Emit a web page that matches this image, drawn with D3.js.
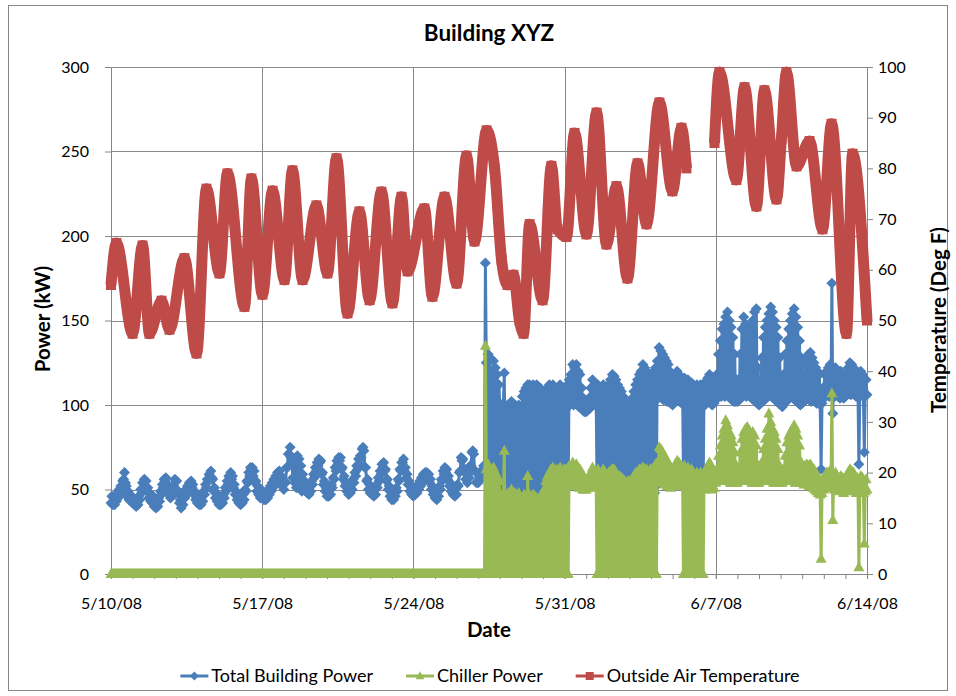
<!DOCTYPE html>
<html>
<head>
<meta charset="utf-8">
<script src="https://cdnjs.cloudflare.com/ajax/libs/d3/7.8.5/d3.min.js"></script>
<style>
body { margin: 0; background: #fff; }
text { font-family: Lato, "Open Sans", sans-serif; fill: #000; }
</style>
</head>
<body>
<svg id="chart" width="956" height="696"></svg>
<script>
// hourly readings, 5/10/08 00:00 through 6/14/08 00:00 (one row per day)
var startDate = new Date(2008, 4, 10);
var stepHours = 1;

var buildingPower = [
    42,46,41,45,41,46,43,48,45,50,48,52,51,55,56,60,54,52,46,49,44,47,43,46,   // 5/10
    42,45,41,44,40,44,41,46,44,50,48,54,54,56,52,55,49,51,45,48,43,46,42,46,
    40,43,39,44,40,45,43,49,47,53,51,56,55,57,51,53,47,50,45,49,46,52,51,56,
    55,55,48,49,42,44,39,44,41,47,45,50,47,52,49,54,52,55,51,53,47,49,44,47,
    42,46,41,45,41,46,43,49,47,53,51,56,55,59,58,61,57,56,49,51,45,48,43,46,
    41,45,41,46,42,47,45,51,49,55,53,58,57,60,56,58,51,53,47,49,44,47,42,46,
    41,45,42,47,44,50,49,55,54,60,58,63,62,63,58,61,54,55,49,52,47,50,45,49,
    45,49,44,48,44,48,45,50,47,52,49,54,51,56,53,58,55,60,57,61,56,58,52,55,   // 5/17
    50,55,54,63,63,71,71,75,69,67,57,65,54,68,51,70,53,68,51,64,49,59,50,55,
    51,53,48,51,47,52,49,55,53,59,57,63,61,66,64,68,66,67,59,60,53,55,49,51,
    46,50,46,51,47,53,51,57,56,63,61,67,65,69,67,69,62,63,56,58,52,54,49,52,
    47,51,48,53,50,56,54,60,58,64,62,68,65,70,69,74,75,73,63,63,55,56,50,53,
    48,51,47,50,46,50,47,53,51,57,55,61,59,65,63,66,61,62,55,56,50,52,46,49,
    44,48,44,49,46,51,49,56,55,62,61,66,66,68,61,63,57,59,53,55,49,52,47,50,
    46,50,47,51,48,53,50,55,52,57,54,59,56,60,56,60,56,59,54,56,50,52,47,50,   // 5/24
    45,48,44,49,46,52,50,56,55,61,59,63,60,62,56,58,52,54,49,52,47,50,46,50,
    47,53,52,60,61,69,67,68,61,62,56,59,54,59,57,64,64,72,73,71,61,61,54,55,
    54,55,56,58,60,62,64,60,184,125,58,130,62,128,55,120,60,126,52,122,58,118,55,112,
    100,52,98,50,101,119,50,99,48,100,52,98,50,102,48,99,50,100,49,98,51,100,48,97,
    50,105,52,108,50,110,52,112,48,112,50,110,52,112,50,110,48,112,50,108,52,110,50,106,
    52,105,50,108,52,110,50,112,52,110,55,112,50,110,52,108,50,110,52,112,50,108,52,110,
    52,110,50,112,52,115,100,118,102,124,100,122,101,124,100,120,99,118,100,110,97,104,96,100,   // 5/31
    96,102,97,104,98,110,100,115,102,112,100,108,55,112,50,110,52,108,50,112,48,108,50,110,
    48,112,50,115,46,118,50,117,48,115,52,112,48,110,50,108,46,105,48,102,46,100,45,98,
    45,100,48,104,50,108,48,112,50,115,52,118,50,120,52,124,50,122,52,120,50,118,48,118,
    48,118,50,120,48,122,52,126,104,134,106,132,104,130,103,128,104,126,102,124,102,120,101,118,
    100,114,102,118,104,120,103,118,102,116,101,115,60,116,58,114,57,115,60,112,58,113,57,112,
    58,110,57,112,56,110,58,112,57,110,56,112,100,114,101,116,102,118,101,116,100,114,101,112,
    105,118,104,130,106,138,105,145,106,148,105,152,106,155,105,150,104,146,103,140,102,130,102,115,   // 6/7
    102,115,103,130,104,145,105,152,106,148,105,145,106,143,105,146,104,150,103,155,102,157,101,122,
    100,112,101,128,102,140,103,146,104,150,105,154,106,158,105,155,104,150,103,146,102,140,101,128,
    100,105,99,118,101,130,102,138,103,145,104,150,105,154,104,157,103,152,102,146,101,138,100,128,
    101,118,102,124,103,128,104,130,103,131,102,128,103,125,102,122,101,120,102,118,100,62,101,110,
    104,118,105,120,106,122,105,124,106,172,95,120,105,122,106,120,105,118,104,120,105,118,104,116,
    105,118,106,122,107,125,106,124,107,122,106,120,105,118,106,65,105,120,106,118,105,72,106,115,
    106   // 6/14
];

var chillerPower = [
    0,0,0,0,0,0,0,0,0,0,0,0,0,0,0,0,0,0,0,0,0,0,0,0,   // 5/10
    0,0,0,0,0,0,0,0,0,0,0,0,0,0,0,0,0,0,0,0,0,0,0,0,
    0,0,0,0,0,0,0,0,0,0,0,0,0,0,0,0,0,0,0,0,0,0,0,0,
    0,0,0,0,0,0,0,0,0,0,0,0,0,0,0,0,0,0,0,0,0,0,0,0,
    0,0,0,0,0,0,0,0,0,0,0,0,0,0,0,0,0,0,0,0,0,0,0,0,
    0,0,0,0,0,0,0,0,0,0,0,0,0,0,0,0,0,0,0,0,0,0,0,0,
    0,0,0,0,0,0,0,0,0,0,0,0,0,0,0,0,0,0,0,0,0,0,0,0,
    0,0,0,0,0,0,0,0,0,0,0,0,0,0,0,0,0,0,0,0,0,0,0,0,   // 5/17
    0,0,0,0,0,0,0,0,0,0,0,0,0,0,0,0,0,0,0,0,0,0,0,0,
    0,0,0,0,0,0,0,0,0,0,0,0,0,0,0,0,0,0,0,0,0,0,0,0,
    0,0,0,0,0,0,0,0,0,0,0,0,0,0,0,0,0,0,0,0,0,0,0,0,
    0,0,0,0,0,0,0,0,0,0,0,0,0,0,0,0,0,0,0,0,0,0,0,0,
    0,0,0,0,0,0,0,0,0,0,0,0,0,0,0,0,0,0,0,0,0,0,0,0,
    0,0,0,0,0,0,0,0,0,0,0,0,0,0,0,0,0,0,0,0,0,0,0,0,
    0,0,0,0,0,0,0,0,0,0,0,0,0,0,0,0,0,0,0,0,0,0,0,0,   // 5/24
    0,0,0,0,0,0,0,0,0,0,0,0,0,0,0,0,0,0,0,0,0,0,0,0,
    0,0,0,0,0,0,0,0,0,0,0,0,0,0,0,0,0,0,0,0,0,0,0,0,
    0,0,0,0,0,0,0,0,135,62,0,65,0,60,0,58,0,63,0,60,0,58,0,55,
    48,0,46,0,47,73,0,45,0,48,0,46,0,50,0,47,0,48,0,46,0,48,0,45,
    0,45,0,47,0,46,0,58,0,47,0,45,0,47,0,46,0,45,0,44,0,46,0,45,
    0,50,0,55,0,58,0,60,0,62,0,63,0,60,0,62,0,60,0,63,0,61,0,62,
    0,62,0,60,0,64,52,62,54,66,52,64,53,65,52,63,51,62,52,60,50,58,50,56,   // 5/31
    50,55,51,58,52,60,53,63,52,60,51,58,0,62,0,60,0,58,0,62,0,60,0,58,
    0,60,0,61,0,62,0,62,0,60,0,58,0,58,0,57,0,56,0,55,0,54,0,55,
    0,55,0,56,0,58,0,60,0,60,0,62,0,62,0,63,0,62,0,62,0,60,0,62,
    0,62,0,63,0,65,0,66,54,75,56,74,55,72,54,70,53,68,52,66,52,64,51,62,
    52,62,53,65,54,67,53,66,52,64,52,63,0,64,0,62,0,63,0,60,0,62,0,60,
    0,58,0,60,2,58,0,60,0,58,0,60,50,62,51,64,52,66,51,64,50,62,51,60,
    54,62,55,70,55,76,56,82,56,86,55,91,56,88,55,84,54,82,54,78,54,72,54,64,   // 6/7
    54,60,55,72,55,80,56,84,56,86,55,87,56,85,55,83,54,84,54,82,54,76,54,64,
    54,58,55,66,55,74,56,80,56,86,55,95,56,90,55,86,54,84,54,80,54,74,54,64,
    54,56,54,62,55,70,55,78,56,82,55,84,56,86,55,88,54,86,54,82,54,76,54,66,
    54,62,53,64,54,65,53,64,52,65,52,63,51,62,50,60,49,58,48,56,47,9,48,55,
    50,58,51,60,52,60,51,61,52,107,32,58,50,60,51,58,50,57,49,58,50,57,48,56,
    49,58,50,60,50,62,51,61,50,60,49,58,48,57,49,4,48,58,49,57,48,18,49,56,
    50   // 6/14
];

// outside air temperature: [days after 5/10/08 00:00, deg F], null = no reading
var airTemp = [
    [0.00,57],[0.25,65.3],[1.00,47.4],[1.46,64.8],[1.78,47.4],[2.34,53.9],[2.71,48.2],
    [3.40,62.3],[3.96,43.5],[4.42,76],[5.02,59.3],[5.39,79],[6.18,52.7],[6.50,78],
    [7.01,55.1],[7.48,75.6],[8.03,58],[8.40,79.6],[8.87,58],[9.51,72.7],[10.02,59.3],
    [10.44,82],[10.95,51.4],[11.50,71.5],[11.97,54],[12.52,75.4],[13.03,53.4],[13.45,74.4],
    [13.73,59.7],[14.51,72.1],[14.88,54.7],[15.44,74.4],[16.00,57.3],[16.46,82.5],[16.83,65.6],
    [17.39,87.5],[17.76,80],[18.08,62],[18.36,57],[18.63,59],[18.91,50],[19.10,47.4],
    [19.38,69],[19.98,54],[20.39,80.5],[20.67,68],[21.09,66.5],[21.46,87],[22.01,67],
    [22.48,91],[22.94,65],[23.40,76.5],[23.91,58.3],[24.38,81],[24.79,69],[25.39,93],
    [25.99,75.5],[26.41,88],[26.64,80],[27.30,null],[27.94,85],[28.17,99],[28.95,77.7],
    [29.33,96],[29.88,72.5],[30.25,95.4],[30.81,73.9],[31.04,86],[31.27,99],[31.74,80.4],
    [32.34,85.4],[32.94,68],[33.36,88.8],[34.05,47.4],[34.33,82.9],[35.00,50]
];

var powerTicks = [0, 50, 100, 150, 200, 250, 300];
var tempTicks = [0, 10, 20, 30, 40, 50, 60, 70, 80, 90, 100];
var weekTicks = ["5/10/08", "5/17/08", "5/24/08", "5/31/08", "6/7/08", "6/14/08"];

var seriesNames = ["Total Building Power", "Chiller Power", "Outside Air Temperature"];
var seriesColors = ["#4A7EBB", "#98B954", "#BE4B48"];

var markers = {
    diamond: "M0,-5.5L5.5,0L0,5.5L-5.5,0Z",
    triangle: "M0,-6L5.5,4L-5.5,4Z",
    square: "M-5,-5h10v10h-10Z"
};

var svg = d3.select("#chart"),
    margin = {top: 67, right: 89, bottom: 122, left: 111},
    width = +svg.attr("width") - margin.left - margin.right,
    height = +svg.attr("height") - margin.top - margin.bottom;

// chart frame
svg.append("rect")
    .attr("x", 8.5).attr("y", 5.5)
    .attr("width", 939).attr("height", 685)
    .attr("fill", "#fff")
    .attr("stroke", "#868686");

var g = svg.append("g")
    .attr("transform", "translate(" + margin.left + "," + margin.top + ")");

var parseDate = d3.timeParse("%m/%d/%y");
var endDate = d3.timeHour.offset(startDate, stepHours * (buildingPower.length - 1));

var x = d3.scaleTime().domain([startDate, endDate]).range([0, width]);
var yPower = d3.scaleLinear().domain([0, 300]).range([height, 0]);
var yTemp = d3.scaleLinear().domain([0, 100]).range([height, 0]);

// gridlines
g.append("g").selectAll("line")
    .data(powerTicks.slice(1))
    .enter().append("line")
    .attr("x1", 0).attr("x2", width)
    .attr("y1", d => Math.round(yPower(d)) + 0.5)
    .attr("y2", d => Math.round(yPower(d)) + 0.5)
    .attr("stroke", "#898989");

g.append("g").selectAll("line")
    .data(weekTicks.slice(1, -1).map(parseDate))
    .enter().append("line")
    .attr("x1", d => Math.round(x(d)) + 0.5)
    .attr("x2", d => Math.round(x(d)) + 0.5)
    .attr("y1", 0).attr("y2", height)
    .attr("stroke", "#898989");

function styleAxis(sel) {
    sel.attr("font-family", null).attr("font-size", 16);
    sel.select(".domain").attr("stroke", "#868686");
    sel.selectAll(".tick line").attr("stroke", "#868686");
    sel.selectAll(".tick text").attr("fill", "#000");
}

// axes
g.append("g")
    .call(d3.axisLeft(yPower).tickValues(powerTicks).tickSize(6).tickPadding(16).tickSizeOuter(0))
    .call(styleAxis);

g.append("g")
    .attr("transform", "translate(" + width + ",0)")
    .call(d3.axisRight(yTemp).tickValues(tempTicks).tickSize(6).tickPadding(5).tickSizeOuter(0))
    .call(styleAxis);

g.append("g")
    .attr("transform", "translate(0," + height + ")")
    .call(d3.axisBottom(x).ticks(d3.timeDay.every(1)).tickFormat("").tickSize(5).tickSizeOuter(0))
    .call(styleAxis);

g.append("g")
    .attr("transform", "translate(0," + height + ")")
    .call(d3.axisBottom(x).tickValues(weekTicks.map(parseDate))
        .tickFormat(d3.timeFormat("%-m/%-d/%y")).tickSize(5).tickPadding(19).tickSizeOuter(0))
    .call(styleAxis);

// series
var powerPoints = buildingPower.map((v, i) => ({date: d3.timeHour.offset(startDate, i * stepHours), value: v}));
var chillerPoints = chillerPower.map((v, i) => ({date: d3.timeHour.offset(startDate, i * stepHours), value: v}));
var tempPoints = airTemp.map(d => ({date: new Date(+startDate + d[0] * 864e5), value: d[1]}));

function drawSeries(points, yScale, color, lineWidth, shape, curve) {
    var line = d3.line()
        .defined(d => d.value !== null)
        .curve(curve)
        .x(d => x(d.date))
        .y(d => yScale(d.value));

    var s = g.append("g");
    s.append("path")
        .datum(points)
        .attr("d", line)
        .attr("fill", "none")
        .attr("stroke", color)
        .attr("stroke-width", lineWidth)
        .attr("stroke-linejoin", "round");

    s.selectAll(".mk")
        .data(points.filter(d => d.value !== null))
        .enter().append("path")
        .attr("class", "mk")
        .attr("d", markers[shape])
        .attr("transform", d => "translate(" + x(d.date) + "," + yScale(d.value) + ")")
        .attr("fill", color);
}

drawSeries(powerPoints, yPower, seriesColors[0], 3, "diamond", d3.curveLinear);
drawSeries(chillerPoints, yPower, seriesColors[1], 3, "triangle", d3.curveLinear);
drawSeries(tempPoints, yTemp, seriesColors[2], 11, "square", d3.curveMonotoneX);

// titles
svg.append("text")
    .attr("x", 489).attr("y", 41)
    .attr("text-anchor", "middle")
    .style("font-size", "22.5px")
    .style("font-weight", "bold")
    .text("Building XYZ");

svg.append("text")
    .attr("x", 489).attr("y", 637)
    .attr("text-anchor", "middle")
    .style("font-size", "20.5px")
    .style("font-weight", "bold")
    .text("Date");

svg.append("text")
    .attr("transform", "translate(50,319) rotate(-90)")
    .attr("text-anchor", "middle")
    .style("font-size", "20.5px")
    .style("font-weight", "bold")
    .text("Power (kW)");

svg.append("text")
    .attr("transform", "translate(946,320) rotate(-90)")
    .attr("text-anchor", "middle")
    .style("font-size", "20.5px")
    .style("font-weight", "bold")
    .text("Temperature (Deg F)");

// legend
var legend = svg.append("g");
var shapes = ["diamond", "triangle", "square"];
var lx = 0;
seriesNames.forEach(function(name, i) {
    var item = legend.append("g").attr("transform", "translate(" + lx + ",0)");
    item.append("line")
        .attr("x1", 0).attr("x2", 28)
        .attr("stroke", seriesColors[i]).attr("stroke-width", 3);
    item.append("path")
        .attr("d", markers[shapes[i]])
        .attr("transform", "translate(14,0) scale(0.8)")
        .attr("fill", seriesColors[i]);
    var t = item.append("text")
        .attr("x", 31).attr("y", 6)
        .style("font-size", "18px")
        .text(name);
    lx += 31 + t.node().getComputedTextLength() + 33;
});
legend.attr("transform", "translate(" + (490 - (lx - 33) / 2) + ",676)");
</script>
</body>
</html>
